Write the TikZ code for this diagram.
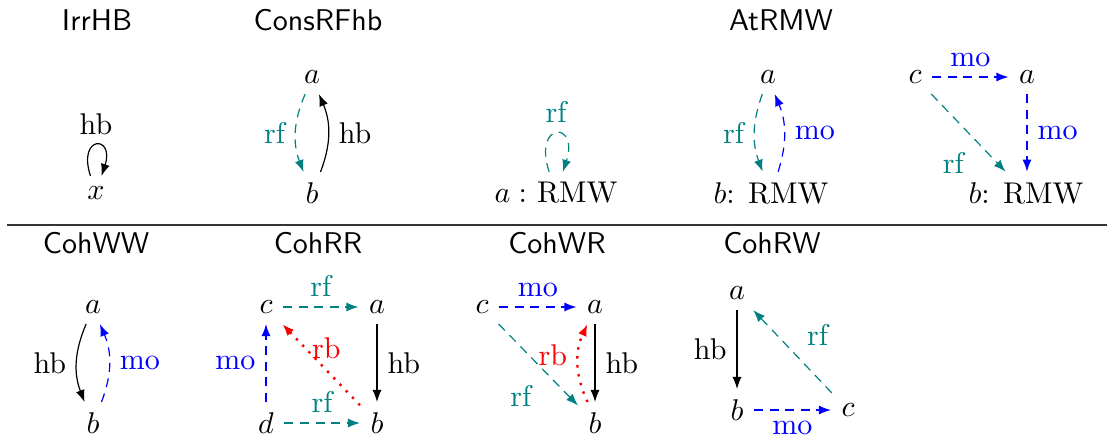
\documentclass[tikz,border=0pt]{standalone}
\usetikzlibrary{arrows.meta}
\begin{document}
\begin{tikzpicture}[x=0.33333pt,y=-0.33333pt,
  tip/.style={-{Latex[length=4pt,width=3pt]}},
  ttl/.style={font=\sffamily},
  hbe/.style={tip,black},
  rfe/.style={tip,teal,dash pattern=on 3pt off 2.2pt},
  moe/.style={tip,blue,dash pattern=on 3pt off 2.2pt},
  rbe/.style={tip,red,line width=0.8pt,dash pattern=on 0.8pt off 2.2pt},
  rfl/.style={text=teal},
  mol/.style={text=blue},
  rbl/.style={text=red},
  lp/.style={loop above,min distance=4.4mm,in=72,out=108,looseness=10}]
\useasboundingbox (0,0) rectangle (1108,440);
% titles
\node[ttl] (t1) at (97,20) {IrrHB};
\node[ttl] (t2) at (318,20) {ConsRFhb};
\node[ttl] (t3) at (781,20) {AtRMW};
\node[ttl] (t4) at (96,243) {CohWW};
\node[ttl] (t5) at (318,243) {CohRR};
\node[ttl] (t6) at (557,243) {CohWR};
\node[ttl] (t7) at (772,243) {CohRW};
\coordinate (l1) at (7,225);
\coordinate (l2) at (1107,225);
\draw[line width=0.4pt,black!80] (l1) -- (l2);
% IrrHB
\node (x) at (96,193) {$x$};
\draw[hbe] (x) to[lp] node[above] {hb} (x);
% ConsRFhb
\node (ca) at (312,77) {$a$};
\node (cb) at (312,193) {$b$};
\draw[rfe] (ca) to[bend right=22] node[left,rfl] {rf} (cb);
\draw[hbe] (cb) to[bend right=22] node[right] {hb} (ca);
% single RMW
\node (ra) at (556,193) {$a:$ RMW};
\draw[rfe] (ra) to[lp] node[above,rfl] {rf} (ra);
% AtRMW left
\node (aa) at (768,77) {$a$};
\node (ab) at (771,193) {$b$: RMW};
\draw[rfe] (aa) to[bend right=20] node[left,rfl] {rf} (ab);
\draw[moe] (ab) to[bend right=20] node[right,mol] {mo} (aa);
% AtRMW right
\node (dc) at (915,77) {$c$};
\node (da) at (1027,77) {$a$};
\node (db) at (1026,193) {$b$: RMW};
\draw[moe] (dc) -- node[above,mol] {mo} (da);
\draw[moe] (da) -- node[right,mol] {mo} (da |- db.north);
\draw[rfe] (dc) -- node[below left,rfl,pos=0.62,xshift=-1pt] {rf} (db);
% CohWW
\node (wa) at (93,307) {$a$};
\node (wb) at (93,423) {$b$};
\draw[hbe] (wa) to[bend right=22] node[left] {hb} (wb);
\draw[moe] (wb) to[bend right=22] node[right,mol] {mo} (wa);
% CohRR
\node (rc) at (266,307) {$c$};
\node (rA) at (377,307) {$a$};
\node (rd) at (266,423) {$d$};
\node (rB) at (377,423) {$b$};
\draw[rfe] (rc) -- node[above,rfl] {rf} (rA);
\draw[hbe] (rA) -- node[right] {hb} (rB);
\draw[moe] (rd) -- node[left,mol] {mo} (rc);
\draw[rfe] (rd) -- node[above,rfl] {rf} (rB);
\draw[rbe] (rB) -- node[rbl,pos=0.55,xshift=3pt,yshift=4pt] {rb} (rc);
% CohWR
\node (xc) at (482,307) {$c$};
\node (xa) at (595,307) {$a$};
\node (xb) at (595,423) {$b$};
\draw[moe] (xc) -- node[above,mol] {mo} (xa);
\draw[hbe] (xa) -- node[right] {hb} (xb);
\draw[rfe] (xc) -- node[below left,rfl,pos=0.62,xshift=-2pt] {rf} (xb);
\draw[rbe] ([xshift=-2.5pt]xb.north) to[bend left=25] node[left,rbl,pos=0.6] {rb} ([xshift=-2.5pt]xa.south);
% CohRW
\node (ya) at (737,293) {$a$};
\node (yb) at (737,410) {$b$};
\node (yc) at (848,410) {$c$};
\draw[hbe] (ya) -- node[left] {hb} (yb);
\draw[moe] (yb) -- node[below,mol] {mo} (yc);
\draw[rfe] (yc) -- node[above right,rfl,pos=0.45] {rf} (ya);
\end{tikzpicture}
\end{document}
